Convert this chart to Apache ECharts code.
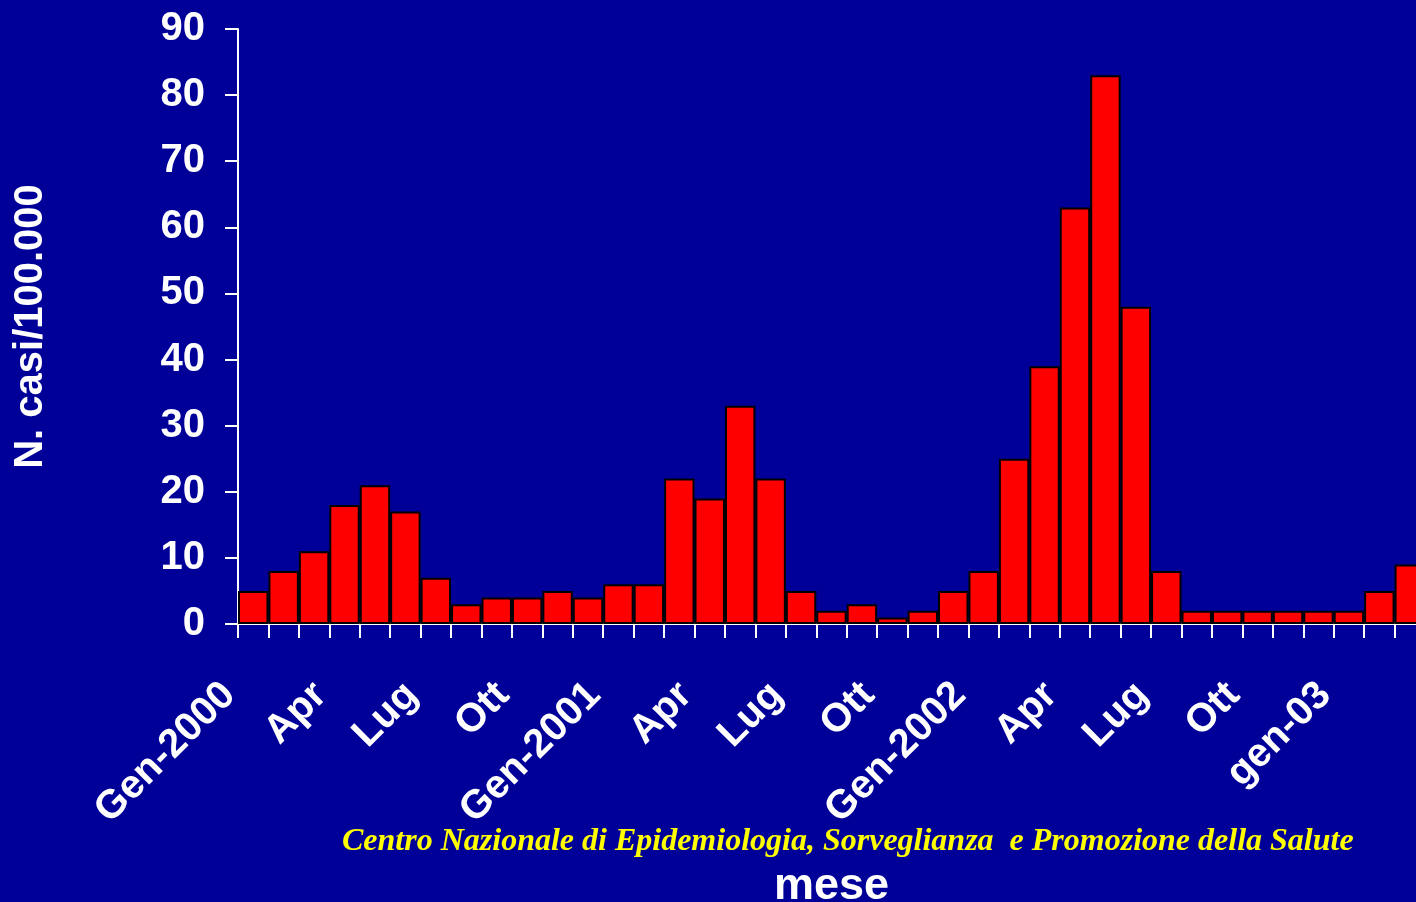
<!DOCTYPE html>
<html>
<head>
<meta charset="utf-8">
<title>N. casi/100.000 per mese</title>
<script src="https://cdn.jsdelivr.net/npm/echarts@6/dist/echarts.min.js"></script>
<style>
  html, body { margin: 0; padding: 0; background: #000099; }
  #chart { width: 1416px; height: 902px; }
</style>
</head>
<body>
<div id="chart"></div>
<script>
// Monthly categories, January 2000 to March 2003
const months = [
  'Gen-2000', 'Feb', 'Mar', 'Apr', 'Mag', 'Giu', 'Lug', 'Ago', 'Set', 'Ott', 'Nov', 'Dic',
  'Gen-2001', 'Feb', 'Mar', 'Apr', 'Mag', 'Giu', 'Lug', 'Ago', 'Set', 'Ott', 'Nov', 'Dic',
  'Gen-2002', 'Feb', 'Mar', 'Apr', 'Mag', 'Giu', 'Lug', 'Ago', 'Set', 'Ott', 'Nov', 'Dic',
  'gen-03', 'feb-03', 'mar-03'
];

// Cases per 100.000, one value per month
const cases = [
  5, 8, 11, 18, 21, 17, 7, 3, 4, 4, 5, 4,
  6, 6, 22, 19, 33, 22, 5, 2, 3, 1, 2, 5,
  8, 25, 39, 63, 83, 48, 8, 2, 2, 2, 2, 2,
  2, 5, 9
];

// Value axis ticks
const yTicks = { min: 0, max: 90, step: 10 };

const yTitle = 'N. casi/100.000';
const xTitle = 'mese';
const footer = 'Centro Nazionale di Epidemiologia, Sorveglianza  e Promozione della Salute';

const chart = echarts.init(document.getElementById('chart'), null, { renderer: 'canvas' });

const white = '#ffffff';
const sans = '"Liberation Sans", Arial, sans-serif';

chart.setOption({
  backgroundColor: '#000099',
  animation: false,
  // the plot runs a few pixels past the right edge of the page
  grid: { left: 238, top: 29, width: 1187, height: 595, containLabel: false, outerBoundsMode: 'none' },
  xAxis: {
    type: 'category',
    data: months,
    boundaryGap: true,
    name: xTitle,
    nameLocation: 'middle',
    nameGap: 240,
    nameTextStyle: { color: white, fontFamily: sans, fontWeight: 'bold', fontSize: 45 },
    axisLine: { lineStyle: { color: white, width: 2 } },
    axisTick: { show: true, interval: 0, length: 14, lineStyle: { color: white, width: 2 } },
    axisLabel: {
      interval: 2,
      rotate: 45,
      margin: 41,
      padding: [0, 34, 0, 0],
      color: white,
      fontFamily: sans,
      fontWeight: 'bold',
      fontSize: 40,
      hideOverlap: false
    },
    splitLine: { show: false }
  },
  yAxis: {
    type: 'value',
    min: yTicks.min,
    max: yTicks.max,
    interval: yTicks.step,
    name: yTitle,
    nameLocation: 'middle',
    nameGap: 187,
    nameTextStyle: { color: white, fontFamily: sans, fontWeight: 'bold', fontSize: 40 },
    axisLine: { show: true, lineStyle: { color: white, width: 2 } },
    axisTick: { show: true, length: 13, lineStyle: { color: white, width: 2 } },
    axisLabel: { margin: 33, color: white, fontFamily: sans, fontWeight: 'bold', fontSize: 40 },
    splitLine: { show: false }
  },
  series: [{
    type: 'bar',
    data: cases,
    barCategoryGap: 0,
    itemStyle: { color: '#ff0000', borderColor: '#000000', borderWidth: 2 }
  }],
  graphic: [{
    type: 'text',
    left: 342,
    top: 826,
    style: {
      text: footer,
      fill: '#ffff00',
      font: 'italic bold 32px "Liberation Serif", "Times New Roman", serif'
    }
  }]
});
</script>
</body>
</html>
